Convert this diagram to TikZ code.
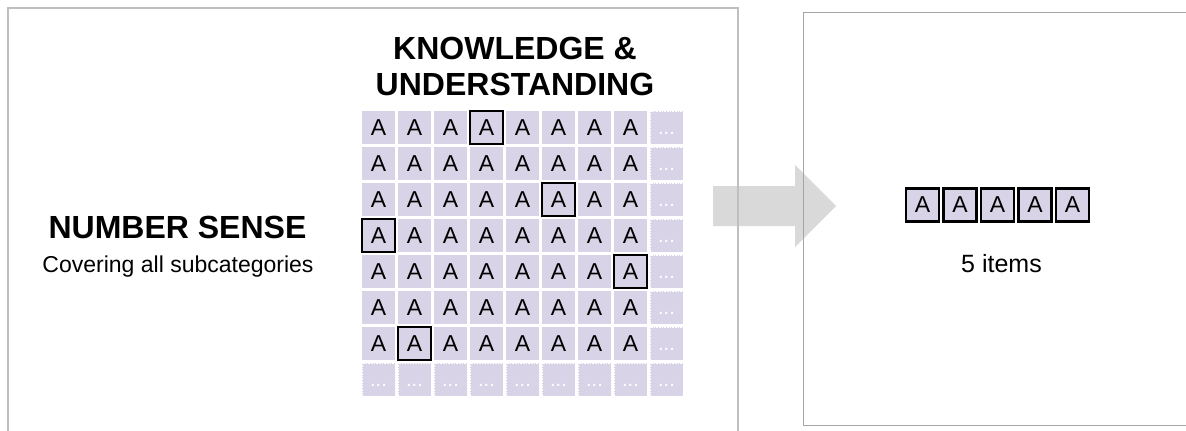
\documentclass[tikz,border=0pt]{standalone}
\usepackage{fontspec}
\setmainfont{Liberation Sans}
\definecolor{lav}{HTML}{D9D3E8}
\definecolor{panelgray}{HTML}{BFBFBF}
\definecolor{panelgraydk}{HTML}{A6A6A6}
\definecolor{arrowgray}{HTML}{D9D9D9}
\tikzset{
  cell/.style={fill=lav, minimum size=33pt, inner sep=0pt, outer sep=0pt,
    font=\fontsize{23}{26}\selectfont},
  dotcell/.style={cell, draw=white, densely dotted, line width=0.6pt, text=white},
  hl/.style={draw=black, line width=2.3pt},
  pick/.style={fill=lav, draw=black, line width=2.5pt, minimum size=33pt, inner sep=0pt,
    font=\fontsize{23}{26}\selectfont},
  heading/.style={font=\fontsize{32}{36}\selectfont\bfseries, align=center, inner sep=0pt},
}
\begin{document}
\begin{tikzpicture}[x=1pt, y=-1pt]
  \path[fill=white] (0,0) rectangle (1186,431);

  % transition arrow between the panels
  \fill[arrowgray] (713,186) -- (795,186) -- (795,165) -- (836,206)
    -- (795,247) -- (795,226) -- (713,226) -- cycle;

  % panels (left one open at the bottom, right one open at the right)
  \draw[panelgray, line width=1.8pt] (8,431) -- (8,8) -- (738,8) -- (738,431);
  \draw[panelgraydk, line width=0.9pt] (1186,12) -- (803,12) -- (803,425) -- (1186,425);

  % left panel text
  \node[heading, anchor=base] (ns) at (177.5,238) {NUMBER SENSE};
  \node[anchor=base, inner sep=0pt, font=\fontsize{23}{26}\selectfont] (sub) at (178,272)
    {Covering all subcategories};
  \node[heading] (ku) at (515,66) {KNOWLEDGE \&\\UNDERSTANDING};

  % item grid: 8x8 items plus a row and column of ellipses
  \foreach \i in {1,...,8}{
    \foreach \j in {1,...,7}{
      \node[cell] (c-\i-\j) at ({378.5+36*(\i-1)},{127.5+36*(\j-1)}) {A};
    }
    \node[dotcell, font=\fontsize{20}{24}\selectfont] (c-\i-8) at ({378.5+36*(\i-1)},{127.5+36*7}) {\vphantom{A}...};
  }
  \foreach \j in {1,...,8}{
    \node[dotcell, font=\fontsize{20}{24}\selectfont] (c-9-\j) at ({378.5+36*8},{127.5+36*(\j-1)}) {\vphantom{A}...};
  }

  % sampled items
  \foreach \p in {4-1, 6-3, 1-4, 8-5, 2-7}{
    \draw[hl] (c-\p.south west) rectangle (c-\p.north east);
  }

  % selected items in the right panel
  \foreach \k in {1,...,5}{
    \node[pick] (s\k) at ({922.5+37.5*(\k-1)},205) {A};
  }
  \node[anchor=base, inner sep=0pt, font=\fontsize{25}{28}\selectfont] (cnt) at (1001.5,272)
    {5 items};

  \pgfresetboundingbox
  \useasboundingbox (0,0) rectangle (1186,431);
\end{tikzpicture}
\end{document}
